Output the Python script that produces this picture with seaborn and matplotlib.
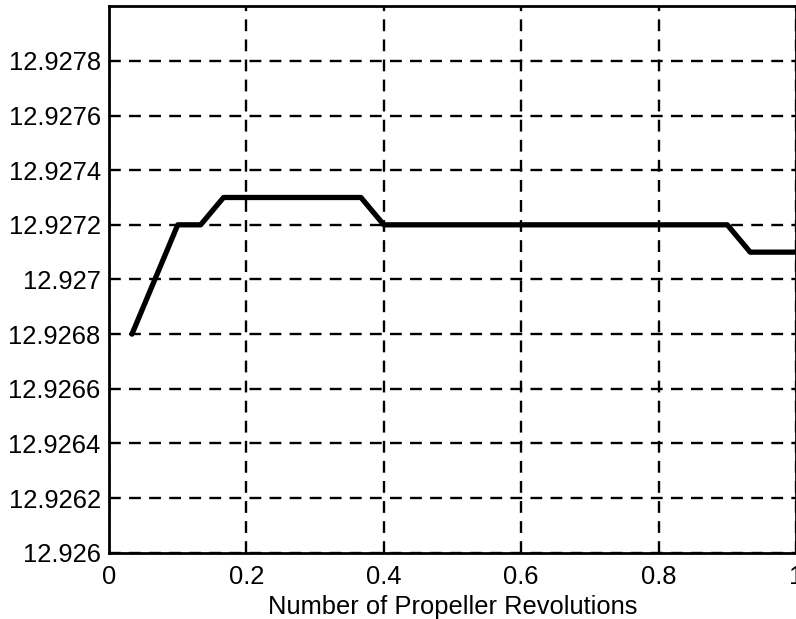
import numpy as np
import pandas as pd
import matplotlib.pyplot as plt
import seaborn as sns

revs = [1/30, 2/30, 3/30, 4/30, 5/30, 6/30, 7/30, 8/30, 9/30, 10/30,
        11/30, 12/30, 13/30, 14/30, 15/30, 16/30, 17/30, 18/30, 19/30, 20/30,
        21/30, 22/30, 23/30, 24/30, 25/30, 26/30, 27/30, 28/30, 29/30, 30/30]
vals = [12.9268, 12.9270, 12.9272, 12.9272, 12.9273, 12.9273, 12.9273, 12.9273, 12.9273, 12.9273,
        12.9273, 12.9272, 12.9272, 12.9272, 12.9272, 12.9272, 12.9272, 12.9272, 12.9272, 12.9272,
        12.9272, 12.9272, 12.9272, 12.9272, 12.9272, 12.9272, 12.9272, 12.9271, 12.9271, 12.9271]
xticks = [0, 0.2, 0.4, 0.6, 0.8, 1]
xtick_labels = ["0", "0.2", "0.4", "0.6", "0.8", "1"]
yticks = [12.926, 12.9262, 12.9264, 12.9266, 12.9268, 12.927, 12.9272, 12.9274, 12.9276, 12.9278]
ytick_labels = ["12.926", "12.9262", "12.9264", "12.9266", "12.9268", "12.927",
                "12.9272", "12.9274", "12.9276", "12.9278"]

df = pd.DataFrame({"rev": revs, "val": vals})

sns.set_style("white")
plt.rcParams['font.family'] = ['Liberation Sans', 'DejaVu Sans']
plt.rcParams['text.color'] = 'black'
plt.rcParams['axes.labelcolor'] = 'black'

fig = plt.figure(figsize=(7.96, 6.19), dpi=100)
ax = fig.add_axes([0.137, 0.107, 0.863, 0.883])
sns.lineplot(data=df, x="rev", y="val", color="black", linewidth=3.8, ax=ax)

ax.set_xlim(0, 1)
ax.set_ylim(12.926, 12.928)
ax.set_xticks(xticks)
ax.set_xticklabels(xtick_labels, fontsize=18.4)
ax.set_yticks(yticks)
ax.set_yticklabels(ytick_labels, fontsize=18.4)
ax.grid(True, color="black", linestyle=(0, (5, 3.5)), linewidth=1.7)
ax.tick_params(direction="in", length=5, width=1.5, colors="black")
ax.tick_params(axis="x", pad=9)
ax.tick_params(axis="y", pad=6)
for s in ax.spines.values():
    s.set_color("black")
    s.set_linewidth(2)
ax.set_xlabel("Number of Propeller Revolutions", fontsize=18.4, labelpad=4)
ax.set_ylabel("")

fig.savefig("out.png", dpi=100)
